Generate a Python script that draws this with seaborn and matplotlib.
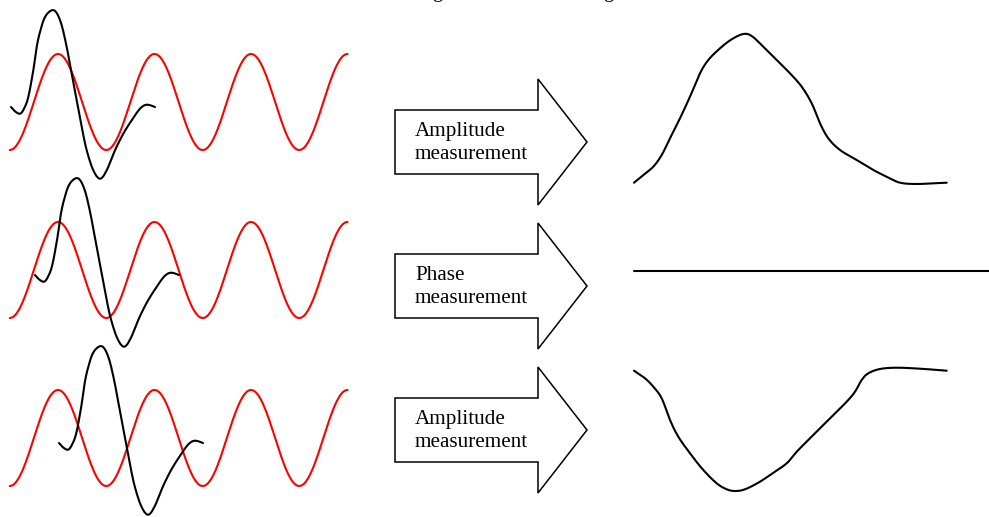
import numpy as np
import pandas as pd
import matplotlib
matplotlib.use("Agg")
import matplotlib.pyplot as plt
from matplotlib.patches import Polygon
import seaborn as sns

# ---------------- data ----------------
# red reference sine (pixel units of the diagram)
ref_amplitude = 48.0
ref_period = 96.5
ref_cycles = 3.5
ref_start = 9.75
row_centers = [102, 270, 438]          # vertical centre of each row
row_shift = [0, 24, 48]                # delay of the black echo in each row

# black echo wavelet: time offset and deflection (down = positive)
echo_t = [0, 4, 9, 13, 17.3, 22.3, 25.7, 29, 34, 40.7, 45.7, 50.7, 55.7,
          60.7, 65.7, 70.7, 75.7, 82.3, 89, 95.7, 104, 112.3, 120.7, 129,
          135.7, 144]
echo_y = [0, 4.3, 6.7, 1.7, -10, -36.7, -60, -75, -90, -96.7, -94, -81.7,
          -60, -33.3, -6.7, 20, 43.3, 63.3, 71.7, 63.3, 43.3, 26.7, 13.3,
          1.7, -2.3, 0]
echo_offset = 5

# measured results (right column)
amp1_x = [634, 643.3, 653.3, 661.7, 670, 680, 690, 700, 708.3, 720, 731.7,
          743.3, 751.7, 763.3, 776.7, 790, 801.7, 811.7, 820, 828.3, 840,
          856.7, 873.3, 886.7, 900, 916.7, 933.3, 946.7]
amp1_y = [182.7, 175, 166.7, 155, 138.3, 118.3, 96.7, 73.3, 60, 48.3, 39.3,
          34, 36, 46.7, 60, 73.3, 86.7, 103.3, 123.3, 138.3, 150, 160, 170,
          176.7, 182.7, 184, 183.3, 182.7]
phase_x = [634, 989]
phase_y = [270.7, 270.7]
amp2_x = [634, 645, 653.3, 661.7, 670, 678.3, 690, 703.3, 716.7, 726.7, 735,
          745, 760, 773.3, 786.7, 796.7, 813.3, 830, 846.7, 855, 861.7,
          868.3, 880, 896.7, 920, 946.7]
amp2_y = [370.7, 378.3, 386.7, 398.3, 420, 436.7, 453.3, 470, 483.3, 489.3,
          491, 489.3, 481.7, 472.7, 463.3, 451.7, 435, 418.3, 401.7, 391.7,
          380, 373.3, 369, 367.7, 368.7, 370.7]

arrow_labels = ["Amplitude\nmeasurement", "Phase\nmeasurement",
                "Amplitude\nmeasurement"]
arrow_centers = [142, 286, 430]

# ---------------- helpers ----------------
def smooth(x, y, n=10):
    x = np.asarray(x, float); y = np.asarray(y, float)
    P = np.column_stack([x, y])
    P = np.vstack([P[0], P, P[-1]])
    out = []
    for i in range(1, len(P) - 2):
        p0, p1, p2, p3 = P[i - 1], P[i], P[i + 1], P[i + 2]
        for t in np.linspace(0, 1, n, endpoint=False):
            t2, t3 = t * t, t * t * t
            out.append(0.5 * ((2 * p1) + (-p0 + p2) * t +
                              (2 * p0 - 5 * p1 + 4 * p2 - p3) * t2 +
                              (-p0 + 3 * p1 - 3 * p2 + p3) * t3))
    out.append(P[-2])
    out = np.array(out)
    return out[:, 0], out[:, 1]

def line(ax, x, y, color, lw):
    df = pd.DataFrame({"x": x, "y": y})
    sns.lineplot(data=df, x="x", y="y", sort=False, estimator=None,
                 color=color, linewidth=lw, ax=ax, legend=False)

# ---------------- figure ----------------
sns.set_style("white")
fig = plt.figure(figsize=(9.89, 5.17), dpi=100)
ax = fig.add_axes([0, 0, 1, 1])
ax.set_xlim(0, 989)
ax.set_ylim(517, 0)
ax.axis("off")

serif = ["Liberation Serif", "DejaVu Serif"]

for c, s in zip(row_centers, row_shift):
    xs = np.linspace(ref_start, ref_start + ref_cycles * ref_period, 600)
    ys = c + ref_amplitude * np.cos(2 * np.pi * (xs - ref_start) / ref_period)
    line(ax, xs, ys, "#ff0000", 1.5)
    ex, ey = smooth(np.array(echo_t) + 11 + s,
                    np.array(echo_y) + c + echo_offset)
    line(ax, ex, ey, "black", 1.5)

# block arrows
left, neck, tip, body_h, head_h = 395, 538, 587, 32, 63
for c, lab in zip(arrow_centers, arrow_labels):
    verts = [(left, c - body_h), (neck, c - body_h), (neck, c - head_h),
             (tip, c), (neck, c + head_h), (neck, c + body_h),
             (left, c + body_h)]
    ax.add_patch(Polygon(verts, closed=True, facecolor="white",
                         edgecolor="black", linewidth=1.1, joinstyle="miter"))
    ax.text(415, c + 1, lab, family=serif, fontsize=15.2, va="center",
            ha="left", linespacing=1.32, color="black")

# results
x1, y1 = smooth(amp1_x, amp1_y)
line(ax, x1, y1, "black", 1.5)
line(ax, phase_x, phase_y, "black", 1.5)
x2, y2 = smooth(amp2_x, amp2_y)
line(ax, x2, y2, "black", 1.5)

# title fragments clipped at the top edge (only descenders visible)
for gx in [437, 608]:
    ax.text(gx, -3, "g", family=serif, fontsize=15, va="baseline",
            ha="center", color="black")

fig.savefig("out.png", dpi=100)
